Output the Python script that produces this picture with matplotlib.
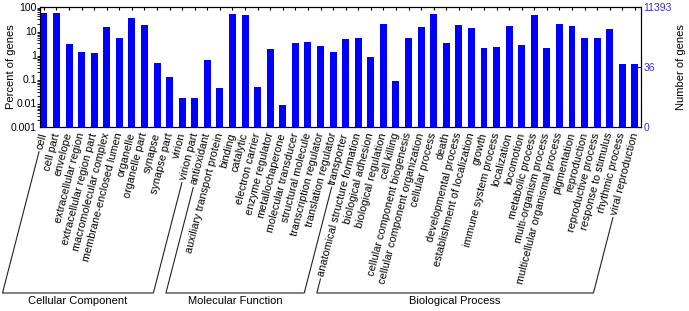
import matplotlib
matplotlib.use('Agg')
import matplotlib.pyplot as plt
import numpy as np
from matplotlib.lines import Line2D

plt.rcParams['font.family'] = ['Liberation Sans', 'DejaVu Sans']

categories = [
    'cell', 'cell part', 'envelope', 'extracellular region', 'extracellular region part',
    'macromolecular complex', 'membrane-enclosed lumen', 'organelle', 'organelle part',
    'synapse', 'synapse part', 'virion', 'virion part',
    'antioxidant', 'auxiliary transport protein', 'binding', 'catalytic', 'electron carrier',
    'enzyme regulator', 'metallochaperone', 'molecular transducer', 'structural molecule',
    'transcription regulator', 'translation regulator', 'transporter',
    'anatomical structure formation', 'biological adhesion', 'biological regulation',
    'cell killing', 'cellular component biogenesis', 'cellular component organization',
    'cellular process', 'death', 'developmental process', 'establishment of localization',
    'growth', 'immune system process', 'localization', 'locomotion', 'metabolic process',
    'multi-organism process', 'multicellular organismal process', 'pigmentation',
    'reproduction', 'reproductive process', 'response to stimulus', 'rhythmic process',
    'viral reproduction',
]
percent = [
    53, 53, 2.75, 1.28, 1.17, 14.8, 5.0, 34, 17.4, 0.48, 0.118, 0.0165, 0.0165,
    0.61, 0.043, 50, 47, 0.049, 1.77, 0.0081, 3.0, 3.45, 2.28, 1.32, 4.7,
    5.0, 0.82, 19, 0.083, 5.0, 14.8, 50, 3.1, 17.4, 13, 1.94, 2.1, 15.8, 2.6, 45,
    1.94, 19, 16.5, 5.2, 5.2, 12.3, 0.42, 0.42,
]
groups = ['Cellular Component', 'Molecular Function', 'Biological Process']
group_sizes = [13, 12, 23]
total_genes = 11393
right_tick_labels = ['0', '36', '11393']
right_tick_counts = [0.001 * total_genes / 100, 36, 11393]
left_ticks = [1e-3, 1e-2, 1e-1, 1, 10, 100]
left_tick_labels = ['0.001', '0.01', '0.1', '1', '10', '100']

W, H = 689, 311
ROT = 75.5
FS = 7.8
fig = plt.figure(figsize=(W / 100, H / 100), dpi=100)
ax = fig.add_axes([39.5 / W, 1 - 127.3 / H, (640.5 - 39.5) / W, (127.3 - 6.7) / H])
x = np.arange(len(categories))
vals = np.array(percent)
ax.bar(x, vals - 1e-3, bottom=1e-3, width=0.55, color='#0000ff', zorder=2)
ax.set_yscale('log')
ax.set_ylim(1e-3, 100)
ax.set_xlim(-0.35, len(categories) - 1 + 0.45)
ax.set_yticks(left_ticks)
ax.set_yticklabels(left_tick_labels)
ax.tick_params(axis='y', which='minor', left=False, right=False)
ax.tick_params(axis='y', direction='in', labelsize=7.5, length=3, pad=2)
ax.set_xticks(x)
ax.set_xticklabels(categories, rotation=ROT, ha='right', va='center',
                   rotation_mode='anchor', fontsize=FS)
ax.tick_params(axis='x', direction='in', top=True, length=2, pad=4)
for s in ax.spines.values():
    s.set_linewidth(0.8)

ax2 = ax.twinx()
ax2.set_yscale('log')
ax2.set_ylim(1e-3, 100)
ax2.set_yticks([c / total_genes * 100 for c in right_tick_counts])
ax2.set_yticklabels(right_tick_labels)
ax2.tick_params(axis='y', which='minor', right=False)
ax2.tick_params(axis='y', direction='in', labelsize=7.5, labelcolor='#3333cc', length=3, pad=2)

fig.text(11 / W, 1 - 67 / H, 'Percent of genes', rotation=90, ha='center', va='center', fontsize=8)
fig.text(681 / W, 1 - 67 / H, 'Number of genes', rotation=90, ha='center', va='center', fontsize=8)

fig.canvas.draw()
renderer = fig.canvas.get_renderer()
labels = ax.get_xticklabels()
theta = np.deg2rad(ROT)
d = np.array([-np.cos(theta), -np.sin(theta)])
y_base = H - 293
gap = 3


def line_bottom(i):
    lab = labels[i]
    anchor = np.array(lab.get_transform().transform(lab.get_position()))
    t = fig.text(0, 0, lab.get_text(), fontsize=FS)
    L = t.get_window_extent(renderer).width
    t.remove()
    P = anchor + (L + gap) * d
    tt = (P[1] - y_base) / np.sin(theta)
    Q = P + tt * d
    return P, Q


inv = fig.transFigure.inverted()
start = 0
for g, n in zip(groups, group_sizes):
    P1, Q1 = line_bottom(start)
    P2, Q2 = line_bottom(start + n - 1)
    pts = np.array([P1, Q1, Q2, P2])
    fp = inv.transform(pts)
    fig.add_artist(Line2D(fp[:, 0], fp[:, 1], transform=fig.transFigure,
                          color='#222222', lw=0.8))
    xm = (Q1[0] + Q2[0]) / 2
    fig.text(xm / W, 1 - 301 / H, g, ha='center', va='center', fontsize=8)
    start += n

fig.savefig('out.png', dpi=100)
